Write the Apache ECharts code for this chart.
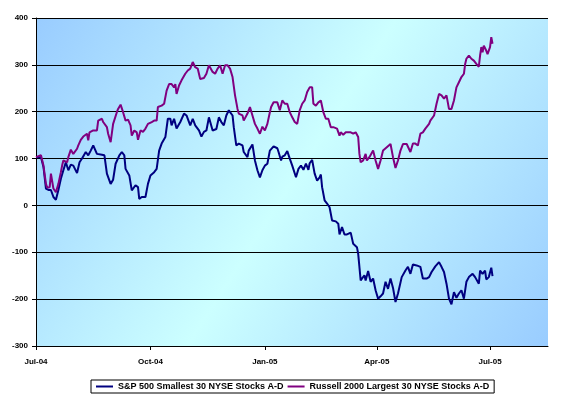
<!DOCTYPE html>
<html>
<head>
<meta charset="utf-8">
<script src="https://cdn.jsdelivr.net/npm/echarts@6/dist/echarts.min.js"></script>
<style>
html,body{margin:0;padding:0;background:#fff;}
#chart{width:576px;height:395px;}
</style>
</head>
<body>
<div id="chart"></div>
<script>
// x values are days since 1 Jul 2004
var axisEndDays = 411.6;

var tickDays = [0, 92, 184, 274, 365];
var tickLabels = ['Jul-04', 'Oct-04', 'Jan-05', 'Apr-05', 'Jul-05'];

var seriesNames = ['S&P 500 Smallest 30 NYSE Stocks A-D', 'Russell 2000 Largest 30 NYSE Stocks A-D'];

var spDays = [0,4,6,8,10,12,14,16,18,20,22,24,26,28,30,33,35,37,40,42,44,46,49,50,53,55,57,60,62,64,67,69,71,72,75,77,80,82,83,85,88,90,92,95,97,99,101,104,106,108,109,111,113,116,119,121,124,126,128,131,133,135,137,139,142,145,147,149,151,153,155,158,159,161,163,166,167,170,171,174,176,178,180,182,184,186,188,191,194,195,197,198,200,202,204,206,209,211,213,215,217,219,220,222,224,226,228,229,230,232,234,236,238,241,243,244,246,248,250,253,255,258,259,261,262,264,265,267,269,271,273,275,277,279,281,283,285,287,289,291,294,297,299,301,303,306,309,311,314,316,318,321,324,326,328,330,332,334,336,338,340,342,344,346,348,351,353,356,357,359,361,362,364,366,367];
var spValues = [103,103,82,36,33,33,18,12,33,57,75,92,75,87,85,69,92,100,114,107,117,128,110,114,108,107,68,46,55,89,107,114,107,78,64,32,43,39,14,18,18,46,64,71,78,117,132,146,185,185,171,185,164,178,196,192,171,185,171,160,147,157,160,188,160,163,188,178,171,192,203,192,167,128,132,128,114,103,117,130,96,75,60,75,85,89,117,126,122,114,96,104,107,116,100,85,60,78,85,76,89,76,90,97,68,53,60,66,39,11,4,-4,-32,-34,-39,-62,-46,-62,-62,-58,-82,-89,-103,-160,-163,-149,-160,-140,-163,-156,-181,-199,-194,-188,-163,-178,-156,-176,-206,-188,-153,-139,-131,-146,-126,-128,-131,-156,-156,-153,-142,-130,-121,-131,-142,-167,-199,-211,-185,-197,-188,-181,-199,-163,-153,-146,-153,-167,-139,-146,-139,-158,-153,-133,-151];

var rsDays = [0,4,6,8,9,11,12,14,16,18,20,21,22,25,26,28,30,33,34,36,38,41,42,43,46,49,50,53,54,57,58,60,62,65,66,68,70,72,74,76,77,79,81,82,84,86,88,90,93,95,97,98,101,103,105,107,109,111,112,113,115,117,120,122,124,126,128,130,132,135,137,139,140,142,144,146,148,150,152,154,156,158,160,162,163,166,167,170,172,174,176,178,180,182,184,186,188,189,191,194,196,198,200,202,204,206,208,210,212,214,216,218,220,222,223,225,227,229,231,233,235,237,239,242,244,245,247,249,253,255,257,259,260,261,263,265,266,268,271,273,275,277,279,282,283,285,287,289,291,293,295,298,299,301,303,305,307,309,311,313,316,317,320,322,324,326,328,330,332,334,336,337,338,340,342,344,345,346,348,350,352,354,356,357,358,359,360,362,363,365,366,367];
var rsValues = [103,107,85,46,38,39,68,36,28,46,71,85,96,92,103,119,110,121,128,140,147,153,139,156,160,160,181,185,178,167,153,135,174,199,206,215,199,181,183,171,149,160,156,140,160,157,164,174,178,181,181,210,213,217,245,259,259,252,259,238,256,267,281,288,292,306,295,292,270,272,281,299,302,285,281,292,299,281,299,299,292,274,235,206,196,192,181,196,210,192,174,164,153,168,160,174,199,210,220,220,203,224,217,217,199,188,178,174,203,217,224,242,252,252,217,213,220,224,199,185,185,167,167,164,149,156,151,156,156,153,156,146,110,92,96,110,96,103,117,96,78,96,117,124,128,131,103,80,96,117,131,131,128,114,132,132,128,153,156,164,174,181,192,217,238,235,228,235,206,206,224,238,252,263,274,281,302,313,320,313,309,302,296,320,338,327,341,330,323,338,359,345];

function toPairs(days, vals) {
  var out = [];
  for (var i = 0; i < days.length; i++) out.push([days[i], vals[i]]);
  return out;
}

var chart = echarts.init(document.getElementById('chart'), null, {renderer: 'canvas'});
var font = 'Arial, "Liberation Sans", sans-serif';

chart.setOption({
  animation: false,
  backgroundColor: '#ffffff',
  grid: {
    left: 36, right: 28, top: 18, bottom: 49,
    show: true,
    borderWidth: 0,
    backgroundColor: new echarts.graphic.LinearGradient(0, 0, 1, 1, [
      {offset: 0, color: '#99CCFF'},
      {offset: 0.5, color: '#CCFFFF'},
      {offset: 1, color: '#99CCFF'}
    ])
  },
  xAxis: {
    type: 'value',
    min: 0,
    max: axisEndDays,
    axisLine: {show: true, onZero: false, lineStyle: {color: '#000', width: 1}},
    axisTick: {show: true, customValues: tickDays, length: 4, lineStyle: {color: '#000'}},
    splitLine: {show: false},
    axisLabel: {
      customValues: tickDays,
      color: '#000', fontSize: 8, fontWeight: 'bold', fontFamily: font, margin: 12,
      formatter: function (v) {
        var i = tickDays.indexOf(Math.round(v));
        return i >= 0 ? tickLabels[i] : '';
      }
    }
  },
  yAxis: {
    type: 'value',
    min: -300, max: 400, interval: 100,
    axisLine: {show: true, lineStyle: {color: '#000', width: 1}},
    axisTick: {show: true, length: 4, lineStyle: {color: '#000'}},
    splitLine: {show: true, lineStyle: {color: '#000', width: 1}},
    axisLabel: {color: '#000', fontSize: 8, fontWeight: 'bold', fontFamily: font, margin: 8}
  },
  legend: {
    bottom: 2,
    left: 91,
    data: seriesNames,
    icon: 'rect',
    itemWidth: 17,
    itemHeight: 2,
    itemGap: 4,
    padding: [2, 5, 2, 5],
    borderColor: '#000',
    borderWidth: 1,
    backgroundColor: '#fff',
    textStyle: {color: '#000', fontSize: 9, fontWeight: 'bold', fontFamily: font}
  },
  series: [
    {
      name: seriesNames[0], type: 'line', showSymbol: false, symbol: 'none',
      color: '#000080', lineStyle: {color: '#000080', width: 2},
      data: toPairs(spDays, spValues)
    },
    {
      name: seriesNames[1], type: 'line', showSymbol: false, symbol: 'none',
      color: '#800080', lineStyle: {color: '#800080', width: 2},
      data: toPairs(rsDays, rsValues)
    }
  ]
});
</script>
</body>
</html>
